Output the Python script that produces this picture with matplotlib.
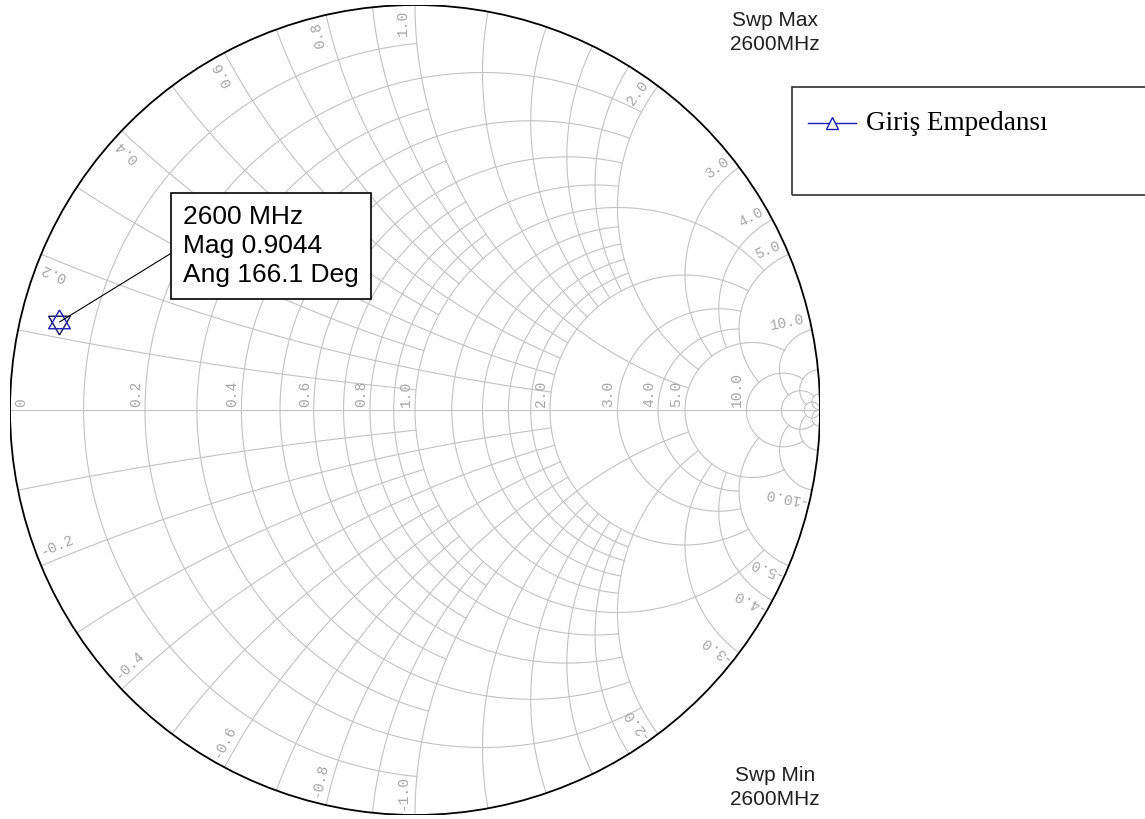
import numpy as np
import matplotlib.pyplot as plt
from matplotlib.patches import Circle, Rectangle
from matplotlib.lines import Line2D

W, H = 1145, 819

# smith grid: values of constant r / constant x and how far each one runs
fine_vals = [0.1, 0.3, 0.5, 0.7, 0.9]
mid_vals = [0.2, 0.4, 0.6, 0.8, 1.2, 1.4, 1.6, 1.8]
major_vals = [1.0, 2.0, 3.0, 4.0]
big_vals = [5.0, 10.0, 20.0, 50.0]
big_ext = [10.0, 20.0, 50.0, np.inf]

axis_labels = [0, 0.2, 0.4, 0.6, 0.8, 1.0, 2.0, 3.0, 4.0, 5.0, 10.0]
rim_labels = [0.2, 0.4, 0.6, 0.8, 1.0, 2.0, 3.0, 4.0, 5.0, 10.0]

# measured point
freq_mhz = 2600
mag = 0.9044
ang_deg = 166.1
trace_name = "Giriş Empedansı"

GRID_C = '#c2c2c2'
LABEL_C = '#a6a6a6'
TRACE_C = '#1c1cb4'


def levels():
    out = [(v, 1.0) for v in fine_vals]
    out += [(v, 2.0) for v in mid_vals]
    out += [(v, 5.0) for v in major_vals]
    out += list(zip(big_vals, big_ext))
    return out


def r_circle(r, xmax, n=500):
    k = r + 1.0
    t = np.linspace(-np.arctan(xmax / k), np.arctan(xmax / k), n)
    z = r + 1j * k * np.tan(t)
    g = (z - 1) / (z + 1)
    return g.real, g.imag


def x_arc(x, rmax, n=500):
    k = abs(x) + 1.0
    t = np.linspace(0, np.arctan(rmax / k), n)
    z = k * np.tan(t) + 1j * x
    g = (z - 1) / (z + 1)
    return g.real, g.imag


fig = plt.figure(figsize=(W / 100, H / 100), dpi=100)
ax = fig.add_axes([10 / W, 4 / H, 810 / W, 810 / H])
ax.set_xlim(-1, 1)
ax.set_ylim(-1, 1)
ax.set_aspect('equal')
ax.axis('off')

px = 2.0 / 810  # one pixel in gamma units

for v, ext in levels():
    gx, gy = r_circle(v, ext)
    ax.plot(gx, gy, color=GRID_C, lw=0.8, zorder=1)
    for s in (1, -1):
        gx, gy = x_arc(s * v, ext)
        ax.plot(gx, gy, color=GRID_C, lw=0.8, zorder=1)

# real axis
gx, gy = x_arc(0.0, np.inf)
ax.plot(gx, gy, color=GRID_C, lw=0.8, zorder=1)

ax.add_patch(Circle((0, 0), 1.0, fill=False, ec='black', lw=1.3, zorder=3))

lab_font = dict(family='Liberation Mono', fontsize=10.5, color=LABEL_C,
                rotation_mode='anchor', zorder=2)

# labels along the real axis
for v in axis_labels:
    g0 = (v - 1) / (v + 1)
    dx = 18 * px if v == 0 else -2 * px
    txt = '0' if v == 0 else f'{v:.1f}'
    ax.text(g0 + dx, 3 * px, txt, rotation=90, ha='left', va='bottom', **lab_font)

# reactance labels at the rim
inset, off = 5 * px, 5 * px
for v in rim_labels:
    th = np.pi - 2 * np.arctan(v)
    c, s = np.cos(th), np.sin(th)
    ax.text((1 - inset) * c - off * s, (1 - inset) * s + off * c, f'{v:.1f}',
            rotation=np.degrees(th), ha='right', va='bottom', **lab_font)
    th = -th
    c, s = np.cos(th), np.sin(th)
    ax.text((1 - inset) * c + off * s, (1 - inset) * s - off * c, f'-{v:.1f}',
            rotation=np.degrees(th) + 180, ha='left', va='bottom', **lab_font)

# marker on the trace: star made of two triangles
k = np.radians([90, 210, 330, 90])
tri_up = list(zip(np.cos(k), np.sin(k)))
tri_dn = [(px_, -py_) for px_, py_ in tri_up]

a = np.radians(ang_deg)
g_re, g_im = mag * np.cos(a), mag * np.sin(a)
ax.plot([g_re], [g_im], marker=tri_dn, ms=18, mfc='none', mec='#16164a', mew=1.0, zorder=5)
ax.plot([g_re], [g_im], marker=tri_up, ms=18, mfc='none', mec=TRACE_C, mew=1.0, zorder=5)

ax.annotate(f'{freq_mhz} MHz\nMag {mag:.4f}\nAng {ang_deg:.1f} Deg',
            xy=(g_re, g_im), xycoords='data',
            xytext=(183 / W, 1 - 205 / H), textcoords='figure fraction',
            ha='left', va='top', fontsize=19, family='Liberation Sans',
            linespacing=1.26, zorder=6,
            bbox=dict(boxstyle='square,pad=0.45', fc='white', ec='black', lw=1.2),
            arrowprops=dict(arrowstyle='-', color='black', lw=0.8,
                            relpos=(0, 0.5), shrinkA=0, shrinkB=0))

# sweep notes
fig.text(775 / W, 1 - 11 / H, f'Swp Max\n{freq_mhz}MHz', ha='center', va='top',
         fontsize=15, family='Liberation Sans', linespacing=1.35, color='#202020')
fig.text(775 / W, 1 - 766 / H, f'Swp Min\n{freq_mhz}MHz', ha='center', va='top',
         fontsize=15, family='Liberation Sans', linespacing=1.35, color='#202020')

# legend box (runs off the right edge)
fig.patches.append(Rectangle((792 / W, 1 - 195 / H), 400 / W, 108 / H,
                             transform=fig.transFigure, fill=False,
                             ec='#303030', lw=1.2))
fig.lines.append(Line2D([808 / W, 832 / W, 856 / W], [1 - 123 / H] * 3,
                        transform=fig.transFigure, color=TRACE_C, lw=1.0,
                        marker='^', markevery=[1], ms=9, mfc='white', mec=TRACE_C))
fig.text(866 / W, 1 - 123 / H, trace_name, ha='left', va='center',
         fontsize=19.5, family='Liberation Serif', color='black')

fig.savefig('out.png', dpi=100)
